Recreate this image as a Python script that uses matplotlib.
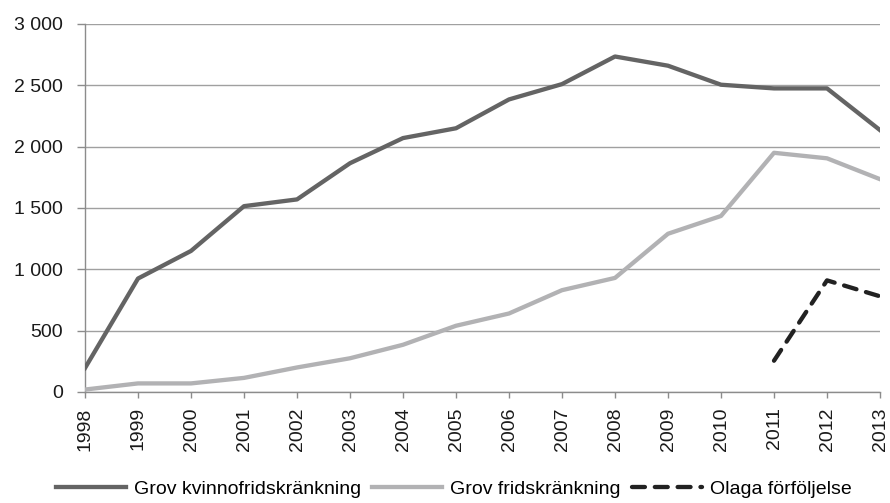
import matplotlib
matplotlib.use("Agg")
import matplotlib.pyplot as plt
from matplotlib.ticker import FuncFormatter

years = list(range(1998, 2014))
grov_kvinno = [195, 925, 1150, 1515, 1570, 1865, 2070, 2150, 2385, 2510, 2735, 2660, 2505, 2475, 2475, 2135]
grov_frid = [20, 70, 70, 115, 200, 275, 385, 540, 640, 830, 930, 1290, 1435, 1950, 1905, 1735]
olaga_years = [2011, 2012, 2013]
olaga = [255, 910, 780]

labels = ["Grov kvinnofridskränkning", "Grov fridskränkning", "Olaga förföljelse"]

plt.rcParams['font.family'] = ['Liberation Sans', 'DejaVu Sans']

fig = plt.figure(figsize=(8.9, 5.03), dpi=100)
ax = fig.add_axes([85/890, 1-392/503, (880-85)/890, (392-24)/503])

lw = 3.1
ax.plot(years, grov_kvinno, color='#646464', lw=lw, solid_joinstyle='round', label=labels[0], zorder=3)
ax.plot(years, grov_frid, color='#b2b2b4', lw=lw, solid_joinstyle='round', label=labels[1], zorder=3)
ax.plot(olaga_years, olaga, color='#222222', lw=lw, dashes=(3.0, 2.3), dash_capstyle='round',
        label=labels[2], zorder=4)

ax.set_xlim(1998, 2013)
ax.set_ylim(0, 3000)
ax.set_yticks(range(0, 3001, 500))
ax.yaxis.set_major_formatter(FuncFormatter(lambda v, p: f"{int(v):,}".replace(",", " ")))
ax.set_xticks(years)
ax.set_xticklabels([str(y) for y in years], rotation=90)

ax.grid(axis='y', color='#a0a0a0', lw=1.0)
ax.set_axisbelow(True)
for s in ['top', 'right']:
    ax.spines[s].set_visible(False)
for s in ['left', 'bottom']:
    ax.spines[s].set_color('#8c8c8c')
    ax.spines[s].set_linewidth(1.0)

fs = 14
ax.tick_params(axis='y', length=6, width=1, color='#8c8c8c', labelsize=fs, pad=10, labelcolor='#1a1a1a')
ax.tick_params(axis='x', length=4, width=1, color='#8c8c8c', labelsize=fs, pad=7, labelcolor='#1a1a1a')

fig.legend(loc='lower center', bbox_to_anchor=(0.51, -0.025), ncol=3, frameon=False,
           fontsize=fs, handlelength=3.6, handletextpad=0.4, columnspacing=0.6)

fig.savefig("out.png", dpi=100)
